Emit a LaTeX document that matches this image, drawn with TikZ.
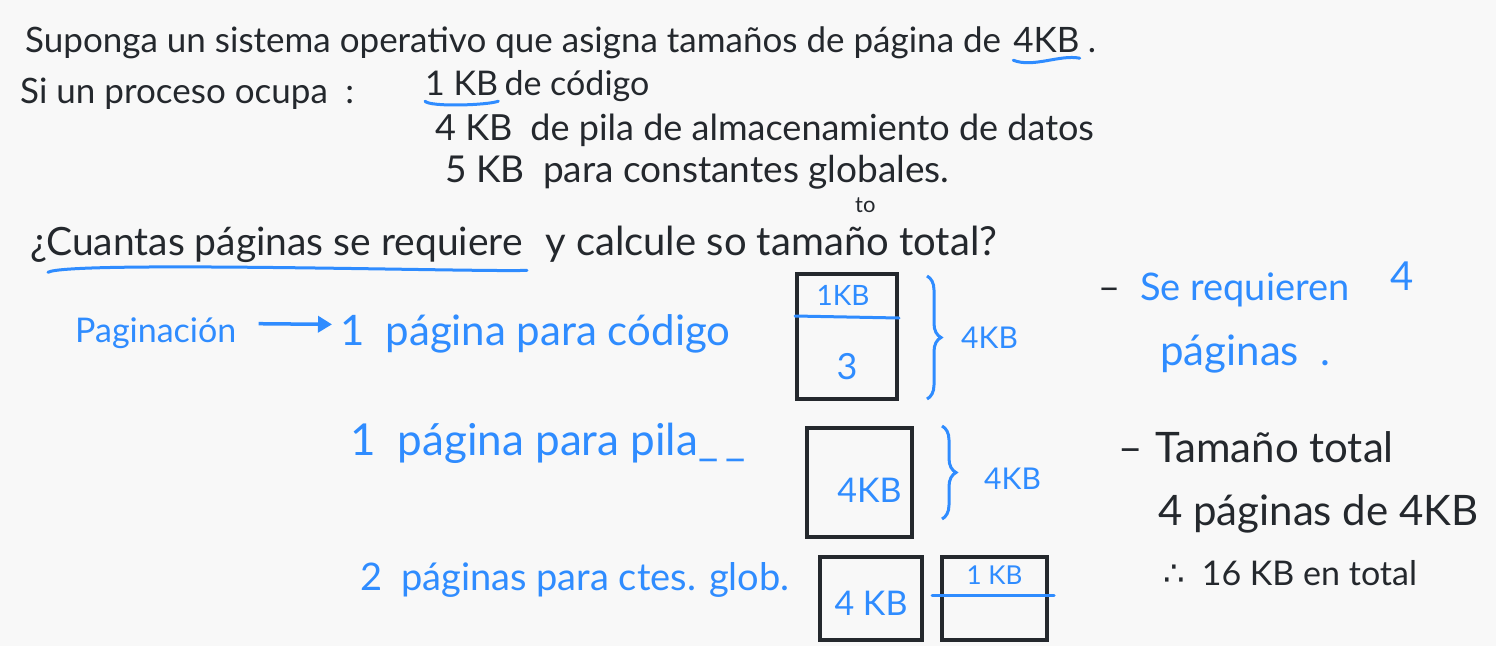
\documentclass[tikz,border=0pt]{standalone}
\usepackage{fontspec}
\setmainfont{Lato}
\newfontfamily\symfont{DejaVu Sans}
\usetikzlibrary{positioning,calc,arrows.meta,decorations.pathreplacing}
\definecolor{ink}{HTML}{24282D}
\definecolor{pen}{HTML}{2F8CFF}
\definecolor{paper}{HTML}{F8F8F8}

\begin{document}
\begin{tikzpicture}[x=1pt,y=-1pt,
  fs/.style={font=\fontsize{#1}{#1}\selectfont},
  txt/.style={inner sep=0pt,anchor=base west,text=ink,fs=35},
  note/.style={txt,text=pen},
  pagebox/.style={draw=ink,line width=4pt,inner sep=0pt,minimum width=#1},
  penline/.style={draw=pen,line width=3pt,line cap=round},
  kbrace/.style={decorate,decoration={brace,amplitude=14pt},draw=pen,line width=3pt}]
\fill[paper] (0,0) rectangle (1496,646);
\useasboundingbox (0,0) rectangle (1496,646);

% enunciado
\node[txt] (l1) at (25,52) {Suponga un sistema operativo que asigna tamaños de página de};
\node[txt] (kbA) at ([xshift=12pt]l1.base east) {4KB};
\node[txt] (dot) at ([xshift=8pt]kbA.base east) {.};
\draw[penline] ([yshift=-8pt]kbA.south west) .. controls +(20,8) and +(-20,-4) .. ([yshift=-6pt]kbA.south east);

\node[txt] (l2) at (20,103) {Si un proceso ocupa\enspace:};
\node[txt,fs=34] (kbB) at (425,95) {1 KB};
\node[txt,fs=34] (l2b) at ([xshift=6pt]kbB.base east) {de código};
\draw[penline] ([yshift=-6pt]kbB.south west) .. controls +(5,6) and +(-10,4) .. ([yshift=-6pt]kbB.south east);
\node[txt,fs=36] (l3) at (435,140) {4 KB\enspace de pila de almacenamiento de datos};
\node[txt,fs=37] (l4) at (445,182) {5 KB\enspace para constantes globales.};
\node[txt,fs=22] (to) at (855,212) {to};

% pregunta
\node[txt,fs=39] (q1) at (30,255) {¿Cuantas páginas se requiere};
\node[txt,fs=40] (q2) at ([xshift=22pt]q1.base east) {y calcule so tamaño total?};
\draw[penline] ([xshift=18pt,yshift=-10pt]q1.south west) .. controls +(20,-12) and +(-40,2) .. ([xshift=4pt,yshift=-8pt]q1.south east);

% paginacion
\node[note,fs=34] (pag) at (75,342) {Paginación};
\node[note,fs=42] (p1) at (340,345) {1\enspace página para código};
\draw[pen,line width=3.5pt,-{Triangle[length=14pt,width=16pt]}] ([xshift=22pt,yshift=9pt]pag.east) -- ([xshift=-8pt,yshift=9pt]p1.west);
\node[note,fs=44] (p2) at (350,455) {1\enspace página para pila\_\,\_};
\node[note,fs=38] (p3) at (360,590) {2\enspace páginas para ctes. glob.};

% paginas
\node[pagebox=100pt,minimum height=125pt] (pg1) at (847,336.5) {};
\node[pagebox=105pt,minimum height=109pt] (pg2) at (859.5,482.5) {};
\node[pagebox=102pt,minimum height=83pt] (pg3) at (871,598.5) {};
\node[pagebox=105pt,minimum height=83pt] (pg4) at (994.5,598.5) {};

\draw[penline] ([yshift=-44pt]pg1.north west) -- ([yshift=-46pt]pg1.north east);
\node[note,fs=28,anchor=center] (c1) at ([xshift=-4pt,yshift=-23pt]pg1.north) {1KB};
\node[note,fs=36,anchor=center] (c3) at ([yshift=-30pt]pg1.center) {3};
\node[note,fs=34,anchor=center] (c4) at ([xshift=10pt,yshift=-8pt]pg2.center) {4KB};
\node[note,fs=34,anchor=center] (c5) at ([yshift=-5pt]pg3.center) {4 KB};
\draw[penline] ([xshift=-8pt,yshift=-40pt]pg4.north west) -- ([xshift=5pt,yshift=-40pt]pg4.north east);
\node[note,fs=26,anchor=center] (c6) at ([yshift=-20pt]pg4.north) {1 KB};

% llaves
\coordinate (b1t) at ([xshift=28pt,yshift=-4pt]pg1.north east);
\coordinate (b1b) at ([xshift=28pt,yshift=2pt]pg1.south east);
\draw[kbrace] (b1t) -- (b1b);
\node[note,fs=30,anchor=west] (s1) at ([xshift=34pt]$(b1t)!0.5!(b1b)$) {4KB};
\coordinate (b2t) at ([xshift=28pt]pg2.north east);
\coordinate (b2b) at ([xshift=28pt,yshift=20pt]pg2.south east);
\draw[kbrace] (b2t) -- (b2b);
\node[note,fs=30,anchor=west] (s2) at ([xshift=42pt,yshift=-6pt]$(b2t)!0.5!(b2b)$) {4KB};

% respuestas
\node[txt,fs=38] (d1) at (1098,300) {–};
\node[note,fs=38] (r1) at (1140,300) {Se requieren};
\node[note,fs=40] (r1n) at (1390,290) {4};
\node[note,fs=42] (r2) at (1160,365) {páginas\enspace.};
\node[txt,fs=42] (d2) at (1118,462) {–};
\node[txt,fs=42] (r3) at (1155,462) {Tamaño total};
\node[txt,fs=42] (r4) at (1158,525) {4 páginas de 4KB};
\node[txt,fs=34] (r5) at (1163,585) {{\symfont ∴}\enspace 16 KB en total};
\end{tikzpicture}
\end{document}
